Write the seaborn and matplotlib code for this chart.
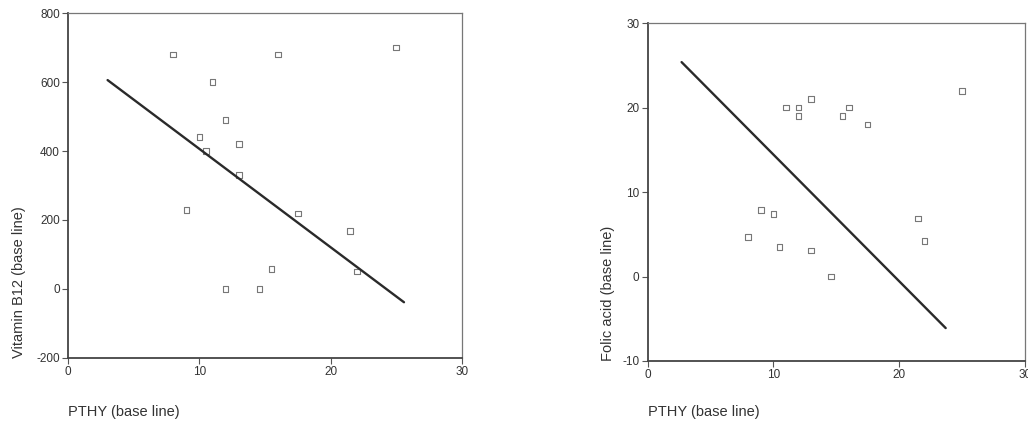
import numpy as np
import pandas as pd
import matplotlib
matplotlib.use("Agg")
import matplotlib.pyplot as plt
import seaborn as sns

# values
pthy = [8, 16, 25, 11, 12, 10, 13, 10.5, 13, 9, 17.5, 21.5, 15.5, 22, 12, 14.6]
vit_b12 = [680, 680, 700, 600, 490, 440, 420, 400, 330, 228, 218, 168, 58, 50, 0, 0]

pthy_fa = [25, 11, 12, 12, 13, 15.5, 16, 17.5, 9, 10, 8, 10.5, 13, 14.6, 21.5, 22]
folic = [22, 20, 20, 19, 21, 19, 20, 18, 7.9, 7.4, 4.7, 3.5, 3.1, 0, 6.9, 4.2]

# fitted lines (end points as drawn)
b12_line_x = [3.0, 25.6]
b12_line_y = [606, -39]
fa_line_x = [2.7, 23.7]
fa_line_y = [25.4, -6.1]

sns.set_style("white")
plt.rcParams['font.family'] = ['Liberation Sans', 'DejaVu Sans']
plt.rcParams['axes.unicode_minus'] = False

fig = plt.figure(figsize=(10.28, 4.24), dpi=100)
ax1 = fig.add_axes([0.0664, 0.1564, 0.3827, 0.8123])
ax2 = fig.add_axes([0.630, 0.1486, 0.367, 0.7965])

df1 = pd.DataFrame({"x": pthy, "y": vit_b12})
df2 = pd.DataFrame({"x": pthy_fa, "y": folic})


def draw(ax, df, lx, ly, ylim, yticks, ylabel, lab_x, lab_y):
    sns.lineplot(x=lx, y=ly, ax=ax, color="#2a2a2a", linewidth=1.7)
    sns.scatterplot(data=df, x="x", y="y", ax=ax, marker="s", s=16,
                    facecolor="none", edgecolor="#777777", linewidth=0.8)
    ax.set_xlim(0, 30)
    ax.set_ylim(*ylim)
    ax.set_xticks([0, 10, 20, 30])
    ax.set_yticks(yticks)
    ax.tick_params(axis="both", direction="out", length=4, width=0.8,
                   colors="#555555", labelcolor="#333333", labelsize=8.5,
                   left=True, bottom=True, pad=2)
    for s in ["left", "bottom"]:
        ax.spines[s].set_color("#444444")
        ax.spines[s].set_linewidth(1.3)
    for s in ["top", "right"]:
        ax.spines[s].set_color("#777777")
        ax.spines[s].set_linewidth(0.9)
    ax.set_xlabel("PTHY (base line)", loc="left", fontsize=10.5, color="#333333")
    ax.set_ylabel(ylabel, loc="bottom", fontsize=10.5, color="#333333")
    ax.xaxis.set_label_coords(0, lab_x)
    ax.yaxis.set_label_coords(lab_y, 0)


draw(ax1, df1, b12_line_x, b12_line_y, (-200, 800),
     [-200, 0, 200, 400, 600, 800], "Vitamin B12 (base line)", -0.137, -0.1075)
draw(ax2, df2, fa_line_x, fa_line_y, (-10, 30),
     [-10, 0, 10, 20, 30], "Folic acid (base line)", -0.130, -0.087)

fig.savefig("out.png", dpi=100, facecolor="white")
